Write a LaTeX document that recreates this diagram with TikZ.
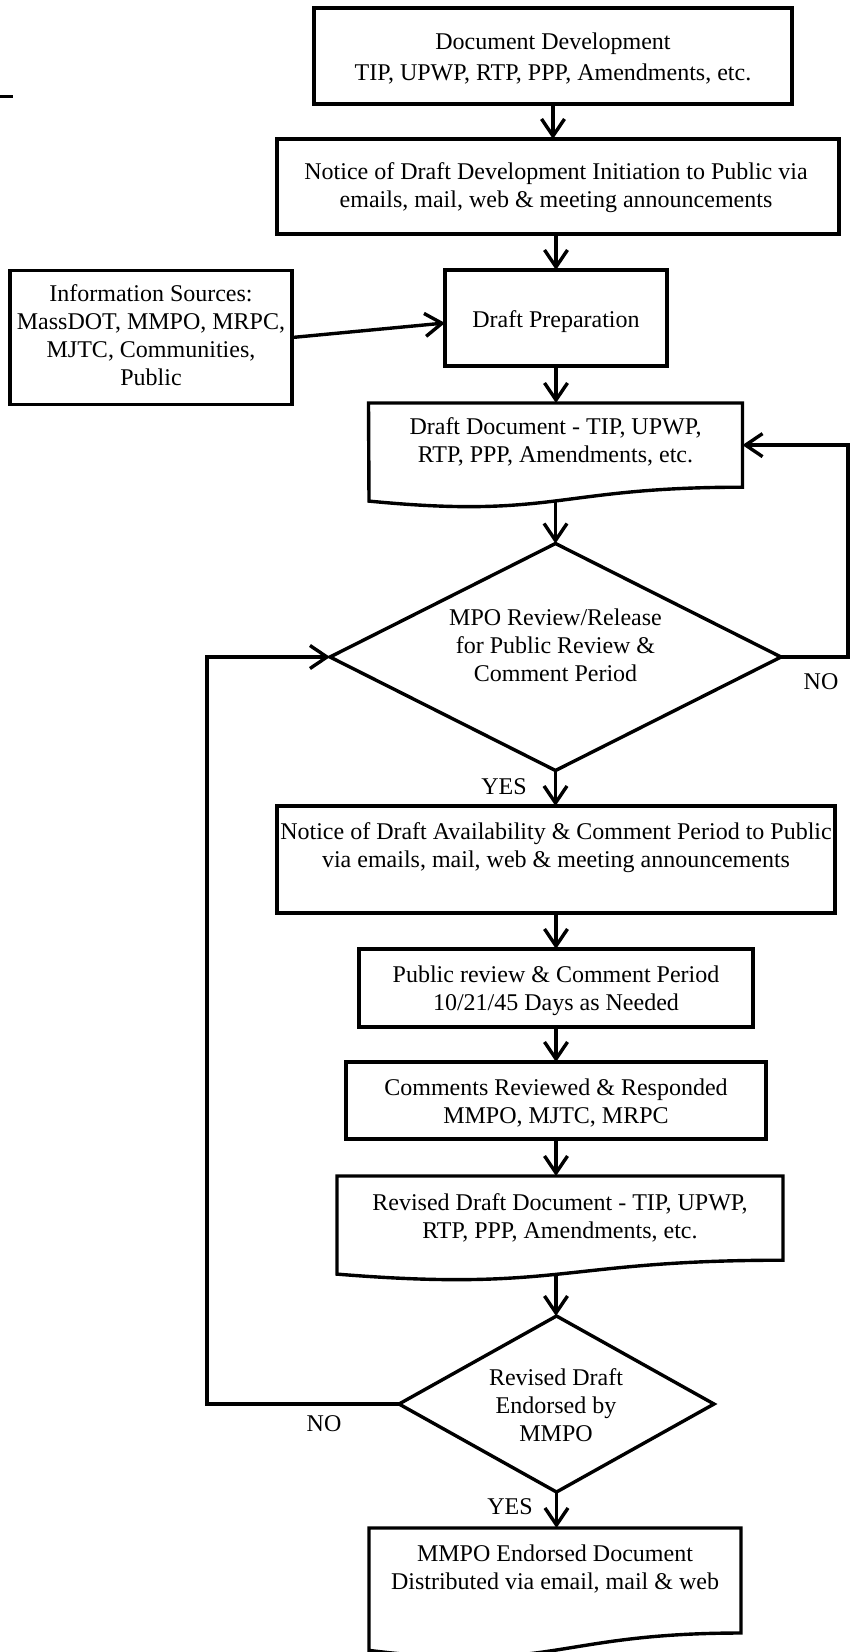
\documentclass[tikz,border=0pt]{standalone}
\usepackage{fontspec}
\setmainfont{Liberation Serif}
\usetikzlibrary{arrows.meta,shapes.geometric,calc}
\begin{document}
\begin{tikzpicture}[x=0.5pt,y=-0.5pt,
  every node/.style={font=\fontsize{12pt}{14pt}\selectfont, align=center, inner sep=0pt, outer sep=0pt},
  shapeline/.style={draw, line width=1.7pt},
  boxnode/.style={rectangle, shapeline},
  docbody/.style={rectangle, draw=none},
  decision/.style={diamond, shapeline},
  arr/.style={line width=1.7pt, -{Straight Barb[length=8.5pt,width=11.5pt]}},
  lbl/.style={font=\fontsize{12pt}{14pt}\selectfont}
]
\useasboundingbox (0,0) rectangle (857,1652);

% stray short line at top left
\draw[line width=1.5pt] (0,97) -- (13,97);

% Box 1
\node[boxnode, minimum width=239pt, minimum height=48pt] (b1) at (553,56) {};
\node[font=\fontsize{12pt}{15.5pt}\selectfont] (t1) at (553,59) {Document Development\\TIP, UPWP, RTP, PPP, Amendments, etc.};

% Box 2
\node[boxnode, minimum width=281pt, minimum height=47.5pt] (b2) at (558,186.5) {};
\node (t2) at (556,188) {Notice of Draft Development Initiation to Public via\\emails, mail, web \& meeting announcements};

% Draft preparation
\node[boxnode, minimum width=111pt, minimum height=48pt] (dp) at (556,318) {};
\node (t3) at (556,322) {Draft Preparation};

% Information sources
\node[boxnode, minimum width=141pt, minimum height=67pt] (info) at (151,337.5) {};
\node (t4) at (151,335) {Information Sources:\\MassDOT, MMPO, MRPC,\\MJTC, Communities,\\Public};

% Draft document (document shape)
\node[docbody, minimum width=187pt, minimum height=42.1pt] (dd) at (555.5,445.1) {};
\draw[shapeline] (dd.south east) -- (dd.north east) -- (dd.north west) -- (369,501.1)
  .. controls (555.5,519.2) and (555.5,487.2) .. (dd.south east) -- cycle;
\node (t5) at (555.5,442) {Draft Document - TIP, UPWP,\\RTP, PPP, Amendments, etc.};
\coordinate (ddw) at (555.5,501);

% Decision 1
\node[decision, minimum width=225.5pt, minimum height=113.5pt] (d1) at (555.5,657) {};
\node (t6) at (555.5,645) {MPO Review/Release\\for Public Review \&\\Comment Period};

% Notice box
\node[boxnode, minimum width=279pt, minimum height=53.5pt] (nt) at (556,859.5) {};
\node (t7) at (556,848) {Notice of Draft Availability \& Comment Period to Public\\via emails, mail, web \& meeting announcements};

% Public review
\node[boxnode, minimum width=197pt, minimum height=39pt] (pr) at (556,988) {};
\node (t8) at (556,991) {Public review \& Comment Period\\10/21/45 Days as Needed};

% Comments
\node[boxnode, minimum width=210pt, minimum height=38.5pt] (cm) at (556,1100.5) {};
\node (t9) at (556,1103) {Comments Reviewed \& Responded\\MMPO, MJTC, MRPC};

% Revised draft document
\node[docbody, minimum width=223pt, minimum height=42.1pt] (rd) at (560,1218.1) {};
\draw[shapeline] (rd.south east) -- (rd.north east) -- (rd.north west) -- (337,1274.1)
  .. controls (560,1292.2) and (560,1260.2) .. (rd.south east) -- cycle;
\node (t10) at (560,1217.5) {Revised Draft Document - TIP, UPWP,\\RTP, PPP, Amendments, etc.};
\coordinate (rdw) at (556,1274.5);

% Decision 2
\node[decision, minimum width=157.5pt, minimum height=88pt] (d2) at (556.5,1404) {};
\node (t11) at (556,1405) {Revised Draft\\Endorsed by\\MMPO};

% Final document
\node[docbody, minimum width=186pt, minimum height=52.5pt] (fd) at (555,1580.5) {};
\draw[shapeline] (fd.south east) -- (fd.north east) -- (fd.north west) -- (369,1650.4)
  .. controls (555,1673) and (555,1633.1) .. (fd.south east) -- cycle;
\node (t12) at (555,1569) {MMPO Endorsed Document\\Distributed via email, mail \& web};

% Connectors
\draw[arr] (b1.south) -- (b1.south |- b2.north);
\draw[arr] (dp.north |- b2.south) -- (dp.north);
\draw[arr] (info.east) -- ([yshift=-2.5pt]dp.west);
\draw[arr] (dp.south) -- (dp.south |- dd.north);
\draw[arr] (ddw) -- (d1.north);
\draw[arr] (d1.south) -- (d1.south |- nt.north);
\draw[arr] (nt.south) -- (nt.south |- pr.north);
\draw[arr] (pr.south) -- (pr.south |- cm.north);
\draw[arr] (cm.south) -- (cm.south |- rd.north);
\draw[arr] (rdw) -- (rdw |- d2.north);
\draw[arr] (d2.south) -- (d2.south |- fd.north);
\draw[arr] (d1.east) -- ++(67,0) |- (dd.east);
\draw[arr] (d2.west) -- ++(-192,0) |- (d1.west);

% Labels
\node[lbl] (no1) at (821,682) {NO};
\node[lbl] (yes1) at (504,787) {YES};
\node[lbl] (no2) at (324,1424) {NO};
\node[lbl] (yes2) at (510,1507) {YES};
\end{tikzpicture}
\end{document}
